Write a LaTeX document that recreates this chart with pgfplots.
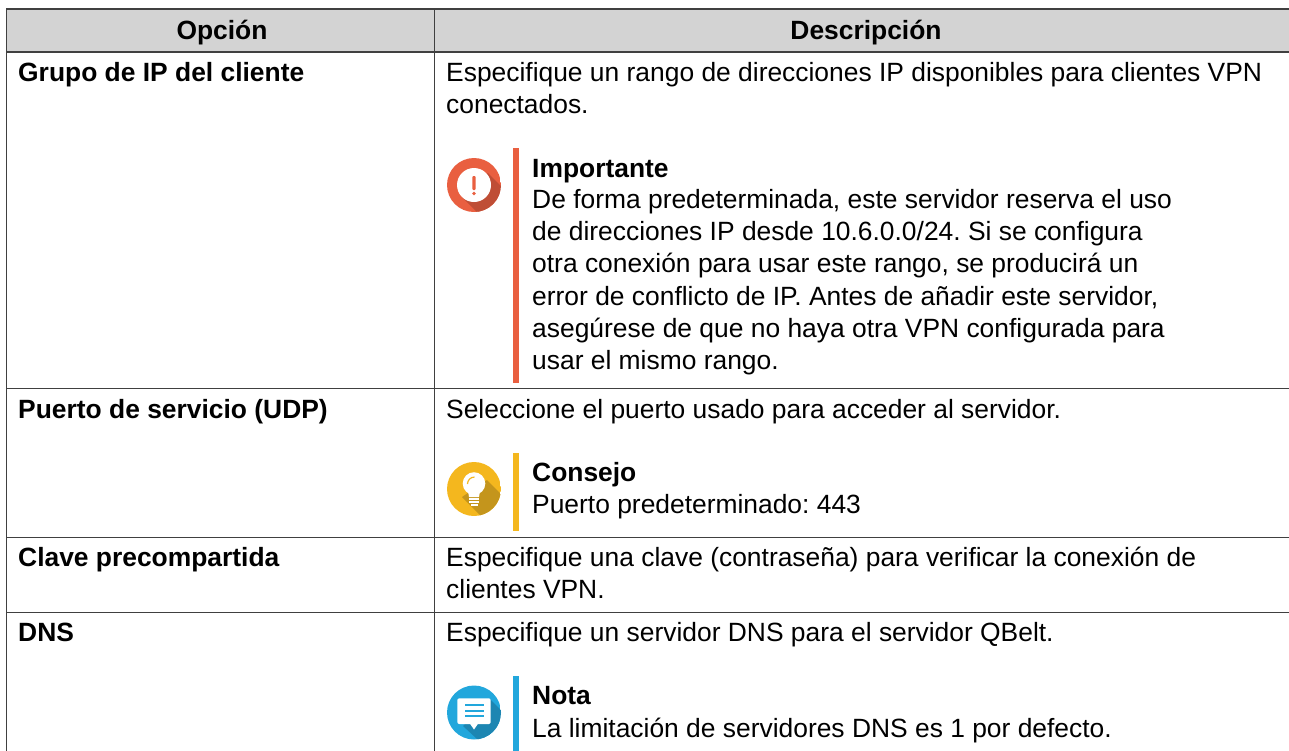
\documentclass[border=0pt]{standalone}
\usepackage{pgfplots}
\usepackage{fontspec}
\setmainfont{Liberation Sans}
\pgfplotsset{compat=1.18}
\definecolor{hdr}{HTML}{D3D3D3}
\definecolor{rul}{HTML}{404040}
\definecolor{rd}{HTML}{E95F40}
\definecolor{rdd}{HTML}{BF4E36}
\definecolor{yl}{HTML}{F4B71E}
\definecolor{yld}{HTML}{C4951C}
\definecolor{bl}{HTML}{22A7DC}
\definecolor{bld}{HTML}{1D86B2}
\newcommand{\tx}[3]{\node[anchor=base west,inner sep=0pt,font=\fontsize{26.4}{29}\selectfont\frenchspacing] at (axis cs:#1,#2) {#3};}
\newcommand{\tb}[3]{\node[anchor=base west,inner sep=0pt,font=\fontsize{26.4}{29}\selectfont\bfseries\frenchspacing] at (axis cs:#1,#2) {#3};}
\begin{document}
\begin{tikzpicture}[x=1pt,y=1pt]
\begin{axis}[
  anchor=north west, at={(0,0)},
  scale only axis, width=1289pt, height=751pt,
  xmin=0, xmax=1289, ymin=0, ymax=751, y dir=reverse,
  hide axis, clip=true]
% header band
\addplot[draw=none,fill=hdr,forget plot] coordinates {(6,9) (1289,9) (1289,52) (6,52) (6,9)};
% table rules
\addplot[rul,line width=1.2pt] coordinates {(6,9) (1289,9)};
\addplot[rul,line width=1.2pt] coordinates {(6,52) (1289,52)};
\addplot[rul,line width=1pt] coordinates {(6,388) (1289,388)};
\addplot[rul,line width=1pt] coordinates {(6,537) (1289,537)};
\addplot[rul,line width=1pt] coordinates {(6,612) (1289,612)};
\addplot[rul,line width=1pt] coordinates {(6,9) (6,751)};
\addplot[rul,line width=1pt] coordinates {(434,9) (434,751)};
% note bars
\addplot[rd,line width=5.4pt] coordinates {(516,148) (516,383)};
\addplot[yl,line width=5.4pt] coordinates {(516,453) (516,531)};
\addplot[bl,line width=5.4pt] coordinates {(516,676) (516,751)};
% text
\node[anchor=base,inner sep=0pt,font=\fontsize{26.4}{29}\selectfont\bfseries] at (axis cs:222,39) {Opción};
\node[anchor=base,inner sep=0pt,font=\fontsize{26.4}{29}\selectfont\bfseries] at (axis cs:866,39) {Descripción};
\tb{18}{81}{Grupo de IP del cliente}
\tb{18}{418}{Puerto de servicio (UDP)}
\tb{18}{566}{Clave precompartida}
\tb{18}{641}{DNS}
\tx{446}{81}{Especifique un rango de direcciones IP disponibles para clientes VPN}
\tx{446}{113}{conectados.}
\tb{532}{177}{Importante}
\tx{532}{208.5}{De forma predeterminada, este servidor reserva el uso}
\tx{532}{240.5}{de direcciones IP desde 10.6.0.0/24. Si se configura}
\tx{532}{272.5}{otra conexión para usar este rango, se producirá un}
\tx{532}{305}{error de conflicto de IP. Antes de añadir este servidor,}
\tx{532}{337}{asegúrese de que no haya otra VPN configurada para}
\tx{532}{369}{usar el mismo rango.}
\tx{446}{418}{Seleccione el puerto usado para acceder al servidor.}
\tb{532}{481}{Consejo}
\tx{532}{513}{Puerto predeterminado: 443}
\tx{446}{566}{Especifique una clave (contraseña) para verificar la conexión de}
\tx{446}{598}{clientes VPN.}
\tx{446}{641}{Especifique un servidor DNS para el servidor QBelt.}
\tb{532}{704}{Nota}
\tx{532}{737}{La limitación de servidores DNS es 1 por defecto.}
% important icon
\begin{scope}
\clip (axis cs:501,185) arc[start angle=0,end angle=360,radius=27pt];
\fill[rd] (axis cs:447,158) rectangle (axis cs:501,212);
\fill[rdd] (axis cs:488,173) -- (axis cs:512,197) -- (axis cs:486,221) -- (axis cs:462,197) -- cycle;
\end{scope}
\fill[white] (axis cs:474,185) circle[radius=17pt];
\fill[rd,rounded corners=1pt] (axis cs:472.3,176) rectangle (axis cs:475.7,190);
\fill[rd] (axis cs:474,193.5) circle[radius=1.9pt];
% tip icon
\begin{scope}
\clip (axis cs:501,489) arc[start angle=0,end angle=360,radius=27pt];
\fill[yl] (axis cs:447,462) rectangle (axis cs:501,516);
\fill[yld] (axis cs:487,480) -- (axis cs:515,508) -- (axis cs:490,525) -- (axis cs:462,497) -- cycle;
\end{scope}
\fill[white] (axis cs:474,483.5) circle[radius=11.3pt];
\fill[white] (axis cs:467.5,488) -- (axis cs:480.5,488) -- (axis cs:479,497) -- (axis cs:469,497) -- cycle;
\fill[white] (axis cs:469,498.2) rectangle (axis cs:479,499.8);
\fill[white] (axis cs:469,501.4) rectangle (axis cs:479,503);
\fill[white] (axis cs:470.5,504.4) rectangle (axis cs:477.5,506);
\draw[yl,line width=1.2pt] (axis cs:467.5,484) arc[start angle=180,end angle=90,radius=7pt];
% note icon
\begin{scope}
\clip (axis cs:501,712.5) arc[start angle=0,end angle=360,radius=27pt];
\fill[bl] (axis cs:447,685) rectangle (axis cs:501,740);
\fill[bld] (axis cs:490,699) -- (axis cs:515,724) -- (axis cs:490,751) -- (axis cs:463,726) -- cycle;
\end{scope}
\fill[white,rounded corners=2pt] (axis cs:457.3,698.3) rectangle (axis cs:490.7,724);
\fill[white] (axis cs:469.5,723) -- (axis cs:478.5,723) -- (axis cs:474,729.5) -- cycle;
\fill[bl] (axis cs:464.5,704) rectangle (axis cs:483.5,706);
\fill[bl] (axis cs:464.5,709.5) rectangle (axis cs:483.5,711.5);
\fill[bl] (axis cs:464.5,715) rectangle (axis cs:483.5,717);
\end{axis}
\pgfresetboundingbox
\path[use as bounding box] (0,0) rectangle (1289pt,-751pt);
\end{tikzpicture}
\end{document}
